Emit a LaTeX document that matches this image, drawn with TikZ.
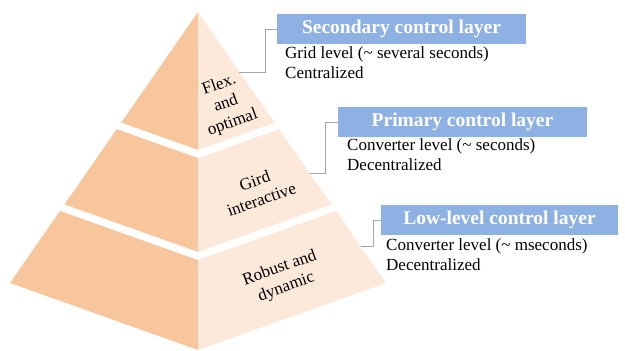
\documentclass[tikz,border=0pt]{standalone}
\usepackage{fontspec}
\setmainfont{Liberation Serif}
\definecolor{peachdark}{HTML}{F8C69C}
\definecolor{peachlight}{HTML}{FCE9DA}
\definecolor{layerblue}{HTML}{8EB1E3}
\definecolor{linkgray}{HTML}{A5A5A5}
\begin{document}
\begin{tikzpicture}[x=1pt,y=-1pt,
  layerbox/.style={fill=layerblue, text=white, inner sep=0pt, minimum height=30pt,
    font=\fontsize{19.5}{22}\selectfont\bfseries},
  desc/.style={anchor=base west, inner sep=0pt, font=\fontsize{17}{20}\selectfont},
  tier/.style={align=center, rotate=19.6, inner sep=0pt, font=\fontsize{17}{20}\selectfont},
  conn/.style={draw=linkgray, line width=0.9pt},
  band/.style={white, line width=7.5pt}]
\useasboundingbox (0,0) rectangle (625,351);

% pyramid: two shaded faces cut into three tiers by white V bands
\begin{scope}
  \clip (198,12) -- (10,283) -- (198,350) -- (386,283) -- cycle;
  \fill[peachdark] (198,12) -- (10,283) -- (198,350) -- cycle;
  \fill[peachlight] (198,12) -- (198,350) -- (386,283) -- cycle;
  \draw[band] (0,83.5) -- (198,154) -- (396,83.5);
  \draw[band] (0,185.5) -- (198,256) -- (396,185.5);
\end{scope}

% tier labels
\node[tier] (t1) at (226,104) {Flex.\\and\\optimal};
\node[tier] (t2) at (258,190) {Gird\\interactive};
\node[tier] (t3) at (283,278) {Robust and\\dynamic};

% layer titles
\node[layerbox, minimum width=249pt] (sec) at (401.5,29) {Secondary control layer};
\node[layerbox, minimum width=249pt] (pri) at (462.5,122) {Primary control layer};
\node[layerbox, minimum width=237pt] (low) at (499.5,220) {Low-level control layer};

% layer descriptions
\node[desc] (sec1) at (285,58) {Grid level (\textasciitilde{} several seconds)};
\node[desc] (sec2) at (285,78) {Centralized};
\node[desc] (pri1) at (347,150) {Converter level (\textasciitilde{} seconds)};
\node[desc] (pri2) at (347,170) {Decentralized};
\node[desc] (low1) at (386,250) {Converter level (\textasciitilde{} mseconds)};
\node[desc] (low2) at (386,270) {Decentralized};

% leader lines from the pyramid edge to each title
\coordinate (e1) at (239,72);
\coordinate (e2) at (310,173);
\coordinate (e3) at (361,246);
\draw[conn] (e1) -- ++(26,0) |- (sec.west);
\draw[conn] (e2) -- ++(15,0) |- (pri.west);
\draw[conn] (e3) -- ++(12,0) |- (low.west);
\end{tikzpicture}
\end{document}
